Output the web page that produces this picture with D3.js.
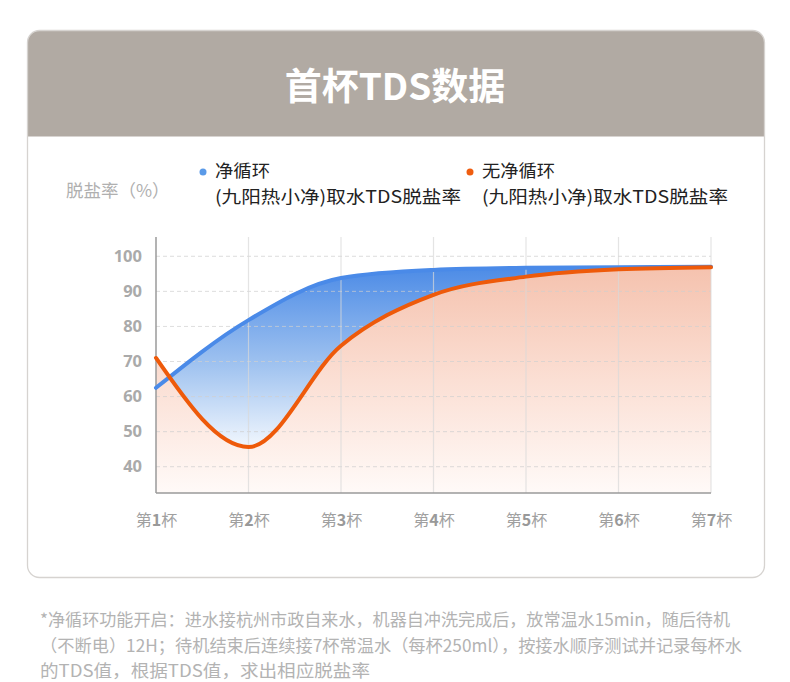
<!DOCTYPE html>
<html><head><meta charset="utf-8">
<script src="https://cdn.jsdelivr.net/npm/d3@7"></script>
<style>
html,body{margin:0;padding:0;background:#fff;}
svg{display:block;}
</style></head>
<body>
<script>
// ---- data ----
const title = "首杯TDS数据";
const yAxisLabel = "脱盐率（%）";
const cups = ["第1杯","第2杯","第3杯","第4杯","第5杯","第6杯","第7杯"];
const seriesNames = [["净循环","(九阳热小净)取水TDS脱盐率"],["无净循环","(九阳热小净)取水TDS脱盐率"]];
const withCycle = [62.5, 81.8, 93.8, 96.1, 96.7, 96.9, 97.0];
const withoutCycle = [71.0, 45.6, 74.5, 89.0, 94.2, 96.3, 96.9];
const yTicks = [40, 50, 60, 70, 80, 90, 100];
const footnote = [
  "*净循环功能开启：进水接杭州市政自来水，机器自冲洗完成后，放常温水15min，随后待机",
  "（不断电）12H；待机结束后连续接7杯常温水（每杯250ml），按接水顺序测试并记录每杯水",
  "的TDS值，根据TDS值，求出相应脱盐率"
];

const W = 790, H = 682;
const cjk = "'Noto Sans CJK SC','Noto Sans',sans-serif";
const svg = d3.select("body").append("svg").attr("width", W).attr("height", H);
const defs = svg.append("defs");

// card
const card = {x: 27.5, y: 30.5, w: 737, h: 547, r: 12, headH: 106};
defs.append("clipPath").attr("id","cardClip").append("rect")
  .attr("x",card.x).attr("y",card.y).attr("width",card.w).attr("height",card.h).attr("rx",card.r);
svg.append("rect").attr("x",card.x).attr("y",card.y).attr("width",card.w).attr("height",card.h)
  .attr("rx",card.r).attr("fill","#fff");
svg.append("rect").attr("clip-path","url(#cardClip)")
  .attr("x",card.x).attr("y",card.y).attr("width",card.w).attr("height",card.headH)
  .attr("fill","#b1aaa3");
svg.append("rect").attr("x",card.x).attr("y",card.y).attr("width",card.w).attr("height",card.h)
  .attr("rx",card.r).attr("fill","none").attr("stroke","#d6d3d0").attr("stroke-width",1.3);

svg.append("text").attr("x", 395).attr("y", 100).attr("text-anchor","middle")
  .attr("font-family", cjk).attr("font-weight",700).attr("font-size",37)
  .attr("fill","#fff").text(title);

// scales
const x = d3.scalePoint().domain(cups).range([156, 711]);
const y = d3.scaleLinear().domain([32.5, 105.5]).range([493, 237]);

// gradients
const gB = defs.append("linearGradient").attr("id","gBlue").attr("gradientUnits","userSpaceOnUse")
  .attr("x1",0).attr("x2",0).attr("y1",y(97)).attr("y2",y(45));
gB.append("stop").attr("offset",0).attr("stop-color","#4c8be6");
gB.append("stop").attr("offset",0.55).attr("stop-color","#a2c4f0");
gB.append("stop").attr("offset",1).attr("stop-color","#f3f8fe");
const gO = defs.append("linearGradient").attr("id","gOrange").attr("gradientUnits","userSpaceOnUse")
  .attr("x1",0).attr("x2",0).attr("y1",y(97)).attr("y2",y(32.5));
gO.append("stop").attr("offset",0).attr("stop-color","#f5c2ae");
gO.append("stop").attr("offset",0.5).attr("stop-color","#fbdfd4");
gO.append("stop").attr("offset",1).attr("stop-color","#fffaf8");

const curve = d3.curveMonotoneX;
const area = d3.area().x((d,i)=>x(cups[i])).y0(y(32.5)).y1(d=>y(d)).curve(curve);
const line = d3.line().x((d,i)=>x(cups[i])).y(d=>y(d)).curve(curve);

svg.append("path").datum(withCycle).attr("d", area).attr("fill","url(#gBlue)");
svg.append("path").datum(withoutCycle).attr("d", area).attr("fill","url(#gOrange)");

// grid
const grid = svg.append("g");
grid.selectAll("line.h").data(yTicks).join("line")
  .attr("x1",156).attr("x2",711).attr("y1",d=>y(d)).attr("y2",d=>y(d))
  .attr("stroke","#cfcfcf").attr("stroke-opacity",0.7).attr("stroke-dasharray","4,3").attr("stroke-width",1);
grid.selectAll("line.v").data(cups.slice(1)).join("line")
  .attr("x1",d=>x(d)).attr("x2",d=>x(d)).attr("y1",237).attr("y2",493)
  .attr("stroke","#d8d8d8").attr("stroke-opacity",0.7).attr("stroke-width",1.2);

// axes
const yAxis = svg.append("g").attr("transform","translate(156,0)")
  .call(d3.axisLeft(y).tickValues(yTicks).tickSize(0).tickPadding(14));
yAxis.select(".domain").attr("d","M0,237V493").attr("stroke","#9a9a9a").attr("stroke-width",1.5);
yAxis.selectAll("text").attr("font-family","'Open Sans',sans-serif").attr("font-weight",700)
  .attr("font-size",16.5).attr("fill","#aaaaaa");

const xAxis = svg.append("g").attr("transform","translate(0,493)")
  .call(d3.axisBottom(x).tickSize(0).tickPadding(22));
xAxis.select(".domain").attr("d","M156,0H711").attr("stroke","#9a9a9a").attr("stroke-width",1.5);
xAxis.selectAll("text").attr("font-family", cjk).attr("font-size",16).attr("fill","#a0a0a0")
  .each(function(d){
    const t = d3.select(this); t.text(null);
    const m = d.match(/^(\D*)(\d+)(\D*)$/);
    t.append("tspan").text(m[1]);
    t.append("tspan").attr("font-weight",700).attr("fill","#999").text(m[2]);
    t.append("tspan").text(m[3]);
  });

// lines
svg.append("path").datum(withCycle).attr("d", line).attr("fill","none")
  .attr("stroke","#4a8ae8").attr("stroke-width",4).attr("stroke-linecap","round");
svg.append("path").datum(withoutCycle).attr("d", line).attr("fill","none")
  .attr("stroke","#ee5a0a").attr("stroke-width",4).attr("stroke-linecap","round");

// y label
svg.append("text").attr("x",66).attr("y",197).attr("font-family",cjk).attr("font-size",17.5)
  .attr("fill","#b0b0b0").text(yAxisLabel);

// legend
const legendColors = ["#5a9ae8","#ef5d10"];
const legendX = [203, 470];
seriesNames.forEach((s,i)=>{
  svg.append("circle").attr("cx",legendX[i]).attr("cy",172).attr("r",3.5).attr("fill",legendColors[i]);
  svg.append("text").attr("x",legendX[i]+12).attr("y",177).attr("font-family",cjk).attr("font-size",17.5)
    .attr("fill","#222").attr("textLength", i === 0 ? 55 : 73).attr("lengthAdjust","spacingAndGlyphs").text(s[0]);
  svg.append("text").attr("x",legendX[i]+12).attr("y",203).attr("font-family",cjk).attr("font-size",17.5)
    .attr("fill","#222").attr("textLength",246).attr("lengthAdjust","spacingAndGlyphs").text(s[1]);
});

// footnote
const fl = [690, 702, 330];
footnote.forEach((t,i)=>{
  svg.append("text").attr("x",40).attr("y",626 + i*25.5).attr("font-family",cjk)
    .attr("font-size",17).attr("fill","#b3b3b3")
    .attr("textLength", fl[i]).attr("lengthAdjust","spacingAndGlyphs").text(t);
});
</script>
</body></html>
